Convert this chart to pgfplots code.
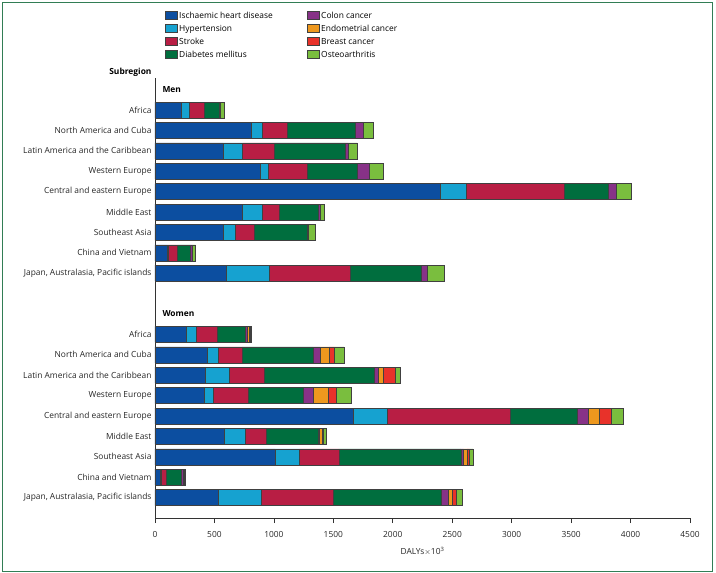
\documentclass[border=0pt]{standalone}
\usepackage{pgfplots}
\usepackage{pgfplotstable}
\pgfplotsset{compat=1.18}
\usepackage{fontspec}
\setmainfont{Open Sans}

\definecolor{ihd}{RGB}{12,78,160}
\definecolor{hyp}{RGB}{22,162,208}
\definecolor{strk}{RGB}{184,30,68}
\definecolor{diab}{RGB}{0,110,62}
\definecolor{colon}{RGB}{135,50,135}
\definecolor{endo}{RGB}{238,152,30}
\definecolor{breast}{RGB}{232,50,42}
\definecolor{osteo}{RGB}{122,190,62}
\definecolor{frame}{RGB}{50,125,85}

% y: 0-8 men, 11-19 women
\pgfplotstableread{
y    ihd   hyp  strk  diab  colon endo breast osteo
0    225   61   126   129   12    0    0      32
1    808   98   208   567   67    0    0      84
2    575   163  266   595   28    0    0      76
3    884   70   323   426   101   0    0      118
4    2399  222  823   370   62    0    0      134
5    738   165  138   328   23    0    0      28
6    570   106  160   441   14    0    0      53
7    104   4    80    107   22    0    0      25
8    603   359  679   595   56    0    0      143
11   267   84   176   236   12    16   8      14
12   443   90   199   601   56    76   44     79
13   421   202  300   923   34    36   104    39
14   412   79   297   455   92    121  65     126
15   1669  281  1038  561   93    95   101    104
16   581   182  169   437   14    20   14     22
17   1010  205  331   1027  22    31   20     28
18   42    9    47    127   11    4    6      9
19   533   359  609   904   64    31   34     48
}\dalys

\newcommand{\lblfont}{\fontsize{8.4}{10.5}\selectfont}

\begin{document}
\begin{tikzpicture}[font=\lblfont]
\begin{axis}[
    scale only axis,
    width=535pt, height=440pt,
    xbar stacked,
    bar width=16pt,
    y dir=reverse,
    xmin=0, xmax=4500,
    ymin=-1.57, ymax=20,
    axis x line*=bottom,
    axis y line*=left,
    axis line style={black!80, line width=0.6pt},
    xtick={0,500,...,4500},
    xtick align=outside,
    major tick length=5pt,
    x tick style={black!80, line width=0.6pt},
    ytick={0,1,2,3,4,5,6,7,8,11,12,13,14,15,16,17,18,19},
    yticklabels={Africa, North America and Cuba, Latin America and the Caribbean, Western Europe, Central and eastern Europe, Middle East, Southeast Asia, China and Vietnam, {Japan, Australasia, Pacific islands},
                 Africa, North America and Cuba, Latin America and the Caribbean, Western Europe, Central and eastern Europe, Middle East, Southeast Asia, China and Vietnam, {Japan, Australasia, Pacific islands}},
    y tick style={draw=none},
    yticklabel style={text=black!85, font=\lblfont},
    xticklabel style={text=black!85, font=\lblfont, yshift=-5pt},
    scaled x ticks=false,
    /pgf/number format/.cd, assume math mode=true, 1000 sep={},
    /pgfplots/.cd,
    xlabel={DALYs$\times$10\textsuperscript{3}},
    xlabel style={text=black!85, font=\lblfont, yshift=-3pt},
    clip=false,
    legend columns=2,
    legend cell align=left,
    legend style={draw=none, fill=none, at={(axis cs:55,-1.57)}, anchor=south west,
        yshift=15pt, row sep=1.2pt, font=\lblfont,
        /tikz/every even column/.append style={column sep=32pt}},
    legend image code/.code={\draw[#1, draw=black!75, line width=0.5pt] (0pt,-3.5pt) rectangle (12pt,4.5pt);},
    every axis plot/.append style={draw=black!75, line width=0.5pt, forget plot},
]
\addplot[fill=ihd]    table[x=ihd, y=y] {\dalys};
\addplot[fill=hyp]    table[x=hyp, y=y] {\dalys};
\addplot[fill=strk]   table[x=strk, y=y] {\dalys};
\addplot[fill=diab]   table[x=diab, y=y] {\dalys};
\addplot[fill=colon]  table[x=colon, y=y] {\dalys};
\addplot[fill=endo]   table[x=endo, y=y] {\dalys};
\addplot[fill=breast] table[x=breast, y=y] {\dalys};
\addplot[fill=osteo]  table[x=osteo, y=y] {\dalys};

\addlegendimage{fill=ihd}    \addlegendentry{Ischaemic heart disease}
\addlegendimage{fill=colon}  \addlegendentry{Colon cancer}
\addlegendimage{fill=hyp}    \addlegendentry{Hypertension}
\addlegendimage{fill=endo}   \addlegendentry{Endometrial cancer}
\addlegendimage{fill=strk}   \addlegendentry{Stroke}
\addlegendimage{fill=breast} \addlegendentry{Breast cancer}
\addlegendimage{fill=diab}   \addlegendentry{Diabetes mellitus}
\addlegendimage{fill=osteo}  \addlegendentry{Osteoarthritis}

\node[anchor=west, font=\lblfont\bfseries] at (axis cs:0,-1) {\hspace{4pt}Men};
\node[anchor=west, font=\lblfont\bfseries] at (axis cs:0,10) {\hspace{4pt}Women};
\node[anchor=east, font=\lblfont\bfseries] at (axis cs:0,-1.86) {Subregion\hspace{6pt}};
\end{axis}
\draw[frame, line width=0.8pt] (-153pt,-53pt) rectangle (557pt,516pt);
\useasboundingbox (-155pt,-55pt) rectangle (561pt,518pt);
\end{tikzpicture}
\end{document}
